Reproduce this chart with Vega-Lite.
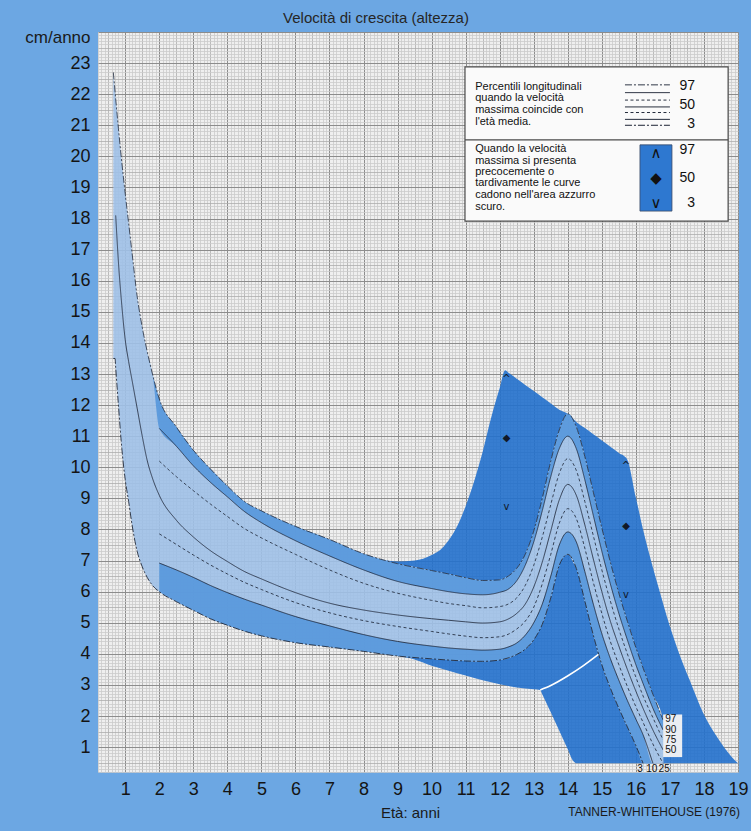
{
  "$schema": "https://vega.github.io/schema/vega-lite/v6.json",
  "width": 640,
  "height": 740,
  "autosize": {"type": "none"},
  "padding": {"left": 98, "top": 32, "right": 13, "bottom": 59},
  "background": "#6ca7e3",
  "config": {"font": "Liberation Sans", "view": {"fill": "#efefef", "stroke": null}},
  "title": {"text": "Velocità di crescita (altezza)", "fontSize": 15, "fontWeight": "normal", "color": "#262626", "anchor": "middle", "frame": "group", "dx": -42, "offset": -3},
  "datasets": {
    "darkUpper": [
      {"x": 8.5, "top": 7.05, "bottom": 7.05},
      {"x": 9.0, "top": 6.97, "bottom": 6.9},
      {"x": 9.5, "top": 7.0, "bottom": 6.79},
      {"x": 10.0, "top": 7.18, "bottom": 6.68},
      {"x": 10.25, "top": 7.34, "bottom": 6.62},
      {"x": 10.5, "top": 7.65, "bottom": 6.57},
      {"x": 10.75, "top": 8.1, "bottom": 6.51},
      {"x": 11.0, "top": 8.75, "bottom": 6.45},
      {"x": 11.25, "top": 9.55, "bottom": 6.4},
      {"x": 11.5, "top": 10.5, "bottom": 6.36},
      {"x": 11.75, "top": 11.6, "bottom": 6.36},
      {"x": 12.0, "top": 12.55, "bottom": 6.38},
      {"x": 12.16, "top": 13.12, "bottom": 6.45},
      {"x": 12.25, "top": 13.05, "bottom": 6.5},
      {"x": 12.5, "top": 12.85, "bottom": 6.75},
      {"x": 12.75, "top": 12.65, "bottom": 7.2},
      {"x": 13.0, "top": 12.45, "bottom": 7.95},
      {"x": 13.25, "top": 12.25, "bottom": 9.0},
      {"x": 13.5, "top": 12.05, "bottom": 10.2},
      {"x": 13.75, "top": 11.85, "bottom": 11.2},
      {"x": 14.0, "top": 11.72, "bottom": 11.72},
      {"x": 14.25, "top": 11.46, "bottom": 11.3},
      {"x": 14.5, "top": 11.26, "bottom": 10.35},
      {"x": 14.75, "top": 11.06, "bottom": 9.2},
      {"x": 15.0, "top": 10.86, "bottom": 8.05},
      {"x": 15.25, "top": 10.66, "bottom": 6.95},
      {"x": 15.5, "top": 10.46, "bottom": 5.95},
      {"x": 15.73, "top": 10.28, "bottom": 5.12},
      {"x": 16.0, "top": 9.03, "bottom": 4.2},
      {"x": 16.21, "top": 8.0, "bottom": 3.55},
      {"x": 16.5, "top": 6.78, "bottom": 2.7},
      {"x": 16.8, "top": 5.62, "bottom": 1.87},
      {"x": 16.81, "top": 5.58, "bottom": 0.48},
      {"x": 17.2, "top": 4.23, "bottom": 0.48},
      {"x": 17.6, "top": 3.1, "bottom": 0.48},
      {"x": 17.98, "top": 2.09, "bottom": 0.48},
      {"x": 18.4, "top": 1.3, "bottom": 0.48},
      {"x": 18.81, "top": 0.69, "bottom": 0.48},
      {"x": 19.0, "top": 0.48, "bottom": 0.48}
    ],
    "darkLower": [
      {"x": 9.0, "top": 3.93, "bottom": 3.93},
      {"x": 9.5, "top": 3.88, "bottom": 3.82},
      {"x": 10.0, "top": 3.84, "bottom": 3.62},
      {"x": 10.5, "top": 3.8, "bottom": 3.46},
      {"x": 11.0, "top": 3.77, "bottom": 3.3},
      {"x": 11.5, "top": 3.76, "bottom": 3.15},
      {"x": 12.0, "top": 3.8, "bottom": 3.02},
      {"x": 12.5, "top": 3.98, "bottom": 2.92},
      {"x": 13.0, "top": 4.45, "bottom": 2.86},
      {"x": 13.19, "top": 4.83, "bottom": 2.84},
      {"x": 13.25, "top": 4.95, "bottom": 2.7},
      {"x": 13.5, "top": 5.8, "bottom": 2.12},
      {"x": 13.75, "top": 6.85, "bottom": 1.53},
      {"x": 14.0, "top": 7.2, "bottom": 0.93},
      {"x": 14.16, "top": 6.95, "bottom": 0.55},
      {"x": 14.25, "top": 6.75, "bottom": 0.48},
      {"x": 14.5, "top": 5.7, "bottom": 0.48},
      {"x": 14.75, "top": 4.6, "bottom": 0.48},
      {"x": 15.0, "top": 3.65, "bottom": 0.48},
      {"x": 15.25, "top": 2.9, "bottom": 0.48},
      {"x": 15.5, "top": 2.25, "bottom": 0.48},
      {"x": 15.75, "top": 1.65, "bottom": 0.48},
      {"x": 16.0, "top": 1.05, "bottom": 0.48},
      {"x": 16.21, "top": 0.48, "bottom": 0.48}
    ],
    "bands": [
      {"x": 0.65, "p97": 22.7, "p3": 13.5},
      {"x": 0.7, "p97": 22.1, "p3": 13.5},
      {"x": 0.72, "p97": 21.85, "p50": 18.1, "p3": 13.2},
      {"x": 0.8, "p97": 20.9, "p50": 16.6, "p3": 12.0},
      {"x": 0.9, "p97": 19.8, "p50": 15.2, "p3": 10.6},
      {"x": 1.0, "p97": 18.8, "p50": 14.1, "p3": 9.6},
      {"x": 1.1, "p97": 17.85, "p50": 13.4, "p3": 8.9},
      {"x": 1.2, "p97": 16.9, "p50": 12.8, "p3": 8.15},
      {"x": 1.35, "p97": 15.5, "p50": 11.9, "p3": 7.3},
      {"x": 1.5, "p97": 14.5, "p50": 11.0, "p3": 6.8},
      {"x": 1.65, "p97": 13.7, "p50": 10.2, "p3": 6.45},
      {"x": 1.8, "p97": 13.0, "p50": 9.65, "p3": 6.2},
      {"x": 2.0, "p97": 12.2, "p90": 11.25, "p75": 10.2, "p50": 9.1, "p25": 7.86, "p10": 6.92, "p3": 6.0},
      {"x": 2.5, "p97": 11.3, "p90": 10.68, "p75": 9.7, "p50": 8.3, "p25": 7.52, "p10": 6.7, "p3": 5.68},
      {"x": 3.0, "p97": 10.55, "p90": 10.05, "p75": 9.25, "p50": 7.76, "p25": 7.18, "p10": 6.46, "p3": 5.4},
      {"x": 3.5, "p97": 9.95, "p90": 9.52, "p75": 8.82, "p50": 7.32, "p25": 6.86, "p10": 6.2, "p3": 5.13},
      {"x": 4.0, "p97": 9.4, "p90": 9.05, "p75": 8.42, "p50": 6.97, "p25": 6.57, "p10": 5.97, "p3": 4.92},
      {"x": 4.5, "p97": 8.9, "p90": 8.58, "p75": 8.03, "p50": 6.65, "p25": 6.3, "p10": 5.76, "p3": 4.73},
      {"x": 5.0, "p97": 8.6, "p90": 8.22, "p75": 7.73, "p50": 6.41, "p25": 6.07, "p10": 5.57, "p3": 4.58},
      {"x": 6.0, "p97": 8.1, "p90": 7.64, "p75": 7.2, "p50": 5.97, "p25": 5.65, "p10": 5.2, "p3": 4.36},
      {"x": 7.0, "p97": 7.68, "p90": 7.15, "p75": 6.7, "p50": 5.63, "p25": 5.32, "p10": 4.9, "p3": 4.22},
      {"x": 8.0, "p97": 7.22, "p90": 6.7, "p75": 6.27, "p50": 5.41, "p25": 5.07, "p10": 4.62, "p3": 4.08},
      {"x": 9.0, "p97": 6.9, "p90": 6.33, "p75": 5.95, "p50": 5.25, "p25": 4.88, "p10": 4.4, "p3": 3.93},
      {"x": 10.0, "p97": 6.68, "p90": 6.1, "p75": 5.72, "p50": 5.13, "p25": 4.72, "p10": 4.25, "p3": 3.84},
      {"x": 10.5, "p97": 6.57, "p90": 6.0, "p75": 5.62, "p50": 5.08, "p25": 4.64, "p10": 4.19, "p3": 3.8},
      {"x": 11.0, "p97": 6.45, "p90": 5.93, "p75": 5.55, "p50": 5.03, "p25": 4.57, "p10": 4.15, "p3": 3.77},
      {"x": 11.5, "p97": 6.36, "p90": 5.9, "p75": 5.48, "p50": 4.99, "p25": 4.52, "p10": 4.12, "p3": 3.76},
      {"x": 12.0, "p97": 6.38, "p90": 5.98, "p75": 5.52, "p50": 5.03, "p25": 4.55, "p10": 4.15, "p3": 3.8},
      {"x": 12.25, "p97": 6.5, "p90": 6.08, "p75": 5.6, "p50": 5.12, "p25": 4.63, "p10": 4.22, "p3": 3.87},
      {"x": 12.5, "p97": 6.75, "p90": 6.35, "p75": 5.8, "p50": 5.3, "p25": 4.8, "p10": 4.35, "p3": 3.98},
      {"x": 12.75, "p97": 7.2, "p90": 6.85, "p75": 6.2, "p50": 5.6, "p25": 5.05, "p10": 4.6, "p3": 4.15},
      {"x": 13.0, "p97": 7.95, "p90": 7.6, "p75": 6.85, "p50": 6.15, "p25": 5.5, "p10": 5.0, "p3": 4.45},
      {"x": 13.25, "p97": 9.0, "p90": 8.6, "p75": 7.75, "p50": 6.95, "p25": 6.25, "p10": 5.6, "p3": 4.95},
      {"x": 13.5, "p97": 10.2, "p90": 9.7, "p75": 8.8, "p50": 7.95, "p25": 7.2, "p10": 6.5, "p3": 5.8},
      {"x": 13.75, "p97": 11.2, "p90": 10.6, "p75": 9.8, "p50": 8.95, "p25": 8.2, "p10": 7.5, "p3": 6.85},
      {"x": 14.0, "p97": 11.72, "p90": 11.0, "p75": 10.28, "p50": 9.45, "p25": 8.67, "p10": 7.92, "p3": 7.2},
      {"x": 14.25, "p97": 11.3, "p90": 10.6, "p75": 9.9, "p50": 9.1, "p25": 8.35, "p10": 7.6, "p3": 6.75},
      {"x": 14.5, "p97": 10.35, "p90": 9.6, "p75": 8.9, "p50": 8.15, "p25": 7.4, "p10": 6.65, "p3": 5.7},
      {"x": 14.75, "p97": 9.2, "p90": 8.45, "p75": 7.8, "p50": 7.05, "p25": 6.3, "p10": 5.6, "p3": 4.6},
      {"x": 15.0, "p97": 8.05, "p90": 7.3, "p75": 6.7, "p50": 6.0, "p25": 5.3, "p10": 4.65, "p3": 3.65},
      {"x": 15.25, "p97": 6.95, "p90": 6.25, "p75": 5.7, "p50": 5.05, "p25": 4.4, "p10": 3.85, "p3": 2.9},
      {"x": 15.5, "p97": 5.95, "p90": 5.3, "p75": 4.8, "p50": 4.25, "p25": 3.65, "p10": 3.15, "p3": 2.25},
      {"x": 15.75, "p97": 5.05, "p90": 4.45, "p75": 4.0, "p50": 3.5, "p25": 2.95, "p10": 2.5, "p3": 1.65},
      {"x": 16.0, "p97": 4.2, "p90": 3.65, "p75": 3.25, "p50": 2.8, "p25": 2.3, "p10": 1.9, "p3": 1.05},
      {"x": 16.21, "p97": 3.55, "p90": 3.05, "p75": 2.65, "p50": 2.25, "p25": 1.8, "p10": 1.4, "p3": 0.48},
      {"x": 16.5, "p97": 2.7, "p90": 2.25, "p75": 1.95, "p50": 1.55, "p25": 1.1, "p10": 0.48, "p3": 0.47},
      {"x": 16.8, "p97": 1.87, "p90": 1.55, "p75": 1.23, "p50": 0.91, "p25": 0.48, "p10": 0.47, "p3": 0.47}
    ],
    "arc": [
      {"x": 13.19, "y": 2.84}, {"x": 13.5, "y": 2.98}, {"x": 13.97, "y": 3.27}, {"x": 14.46, "y": 3.62}, {"x": 14.9, "y": 3.98}
    ],
    "markers": [
      {"x": 12.2, "y": 12.85, "s": "^"}, {"x": 12.2, "y": 10.94, "s": "◆"}, {"x": 12.2, "y": 8.72, "s": "v"},
      {"x": 15.71, "y": 10.05, "s": "^"}, {"x": 15.71, "y": 8.11, "s": "◆"}, {"x": 15.71, "y": 5.89, "s": "v"}
    ],
    "legendBox": [{"x": 10.98, "x2": 18.71, "y": 22.88, "y2": 17.92}],
    "legendSep": [{"x": 10.98, "x2": 18.71, "y": 20.53}],
    "legendText": [
      {"x": 11.28, "y": 22.24, "t": "Percentili longitudinali"},
      {"x": 11.28, "y": 21.87, "t": "quando la velocità"},
      {"x": 11.28, "y": 21.49, "t": "massima coincide con"},
      {"x": 11.28, "y": 21.12, "t": "l'età media."},
      {"x": 11.28, "y": 20.23, "t": "Quando la velocità"},
      {"x": 11.28, "y": 19.86, "t": "massima si presenta"},
      {"x": 11.28, "y": 19.5, "t": "precocemente o"},
      {"x": 11.28, "y": 19.14, "t": "tardivamente le curve"},
      {"x": 11.28, "y": 18.76, "t": "cadono nell'area azzurro"},
      {"x": 11.28, "y": 18.38, "t": "scuro."}
    ],
    "legendNum": [
      {"x": 17.74, "y": 22.27, "t": "97"}, {"x": 17.74, "y": 21.65, "t": "50"}, {"x": 17.74, "y": 21.04, "t": "3"},
      {"x": 17.74, "y": 20.2, "t": "97"}, {"x": 17.74, "y": 19.31, "t": "50"}, {"x": 17.74, "y": 18.5, "t": "3"}
    ],
    "legendSample": [
      {"x": 15.68, "x2": 17.0, "y": 22.3, "pct": "p97"},
      {"x": 15.68, "x2": 17.0, "y": 22.05, "pct": "p90"},
      {"x": 15.68, "x2": 17.0, "y": 21.81, "pct": "p75"},
      {"x": 15.68, "x2": 17.0, "y": 21.59, "pct": "p50"},
      {"x": 15.68, "x2": 17.0, "y": 21.41, "pct": "p25"},
      {"x": 15.68, "x2": 17.0, "y": 21.19, "pct": "p10"},
      {"x": 15.68, "x2": 17.0, "y": 21.0, "pct": "p3"}
    ],
    "legendBlue": [{"x": 16.12, "x2": 17.06, "y": 20.37, "y2": 18.24}],
    "legendSym": [
      {"x": 16.59, "y": 20.12, "s": "∧"}, {"x": 16.59, "y": 19.31, "s": "◆"}, {"x": 16.59, "y": 18.5, "s": "∨"}
    ],
    "endBox": [{"x": 16.8, "x2": 17.36, "y": 2.05, "y2": 0.68}],
    "endRight": [
      {"x": 16.86, "y": 1.89, "t": "97"}, {"x": 16.86, "y": 1.56, "t": "90"}, {"x": 16.86, "y": 1.23, "t": "75"}, {"x": 16.86, "y": 0.9, "t": "50"}
    ],
    "endBottom": [
      {"x": 16.12, "y": 0.3, "t": "3"}, {"x": 16.47, "y": 0.3, "t": "10"}, {"x": 16.83, "y": 0.3, "t": "25"}
    ],
    "credit": [{"x": 19.06, "y": -1.09, "t": "TANNER-WHITEHOUSE (1976)"}]
  },
  "layer": [
    {
      "data": {"name": "darkUpper"},
      "mark": {"type": "area", "color": "#2270cc", "opacity": 0.9, "interpolate": "monotone"},
      "encoding": {
        "x": {"field": "x", "type": "quantitative",
          "scale": {"domain": [0.2, 19], "nice": false, "zero": false},
          "axis": {
            "tickCount": 188, "grid": true, "ticks": false, "tickSize": 0, "domain": false,
            "labelExpr": "abs(datum.value - round(datum.value)) < 0.01 ? '' + round(datum.value) : ''",
            "labelOverlap": false, "labelFlush": false, "labelBound": false,
            "labelFontSize": 18, "labelColor": "#141414", "labelPadding": 8,
            "gridColor": {"condition": [{"test": "abs(datum.value - round(datum.value)) < 0.01", "value": "#8c8c8c"}, {"test": "abs(datum.value * 2 - round(datum.value * 2)) < 0.01", "value": "#adadad"}], "value": "#cbcbcb"},
            "gridWidth": {"condition": [{"test": "abs(datum.value - round(datum.value)) < 0.01", "value": 1}], "value": 0.8},
            "title": "Età: anni", "titleFontSize": 15, "titleFontWeight": "normal", "titleColor": "#1a1a1a",
            "titleX": 312, "titleY": 40, "titleBaseline": "middle", "titleAlign": "center"
          }
        },
        "y": {"field": "top", "type": "quantitative",
          "scale": {"domain": [0.2, 24], "nice": false, "zero": false},
          "axis": {
            "tickCount": 238, "grid": true, "ticks": false, "tickSize": 0, "domain": false,
            "labelExpr": "abs(datum.value - round(datum.value)) < 0.01 && datum.value < 23.5 ? '' + round(datum.value) : ''",
            "labelOverlap": false, "labelFlush": false, "labelBound": false,
            "labelFontSize": 18, "labelColor": "#141414", "labelPadding": 8,
            "gridColor": {"condition": [{"test": "abs(datum.value - round(datum.value)) < 0.01", "value": "#8c8c8c"}, {"test": "abs(datum.value * 2 - round(datum.value * 2)) < 0.01", "value": "#adadad"}], "value": "#cbcbcb"},
            "gridWidth": {"condition": [{"test": "abs(datum.value - round(datum.value)) < 0.01", "value": 1}], "value": 0.8},
            "title": "cm/anno", "titleFontSize": 17, "titleFontWeight": "normal", "titleColor": "#1a1a1a",
            "titleAngle": 0, "titleAlign": "right", "titleBaseline": "middle", "titleX": -8, "titleY": 5
          }
        },
        "y2": {"field": "bottom"}
      }
    },
    {
      "data": {"name": "darkLower"},
      "mark": {"type": "area", "color": "#2270cc", "opacity": 0.9, "interpolate": "monotone"},
      "encoding": {
        "x": {"field": "x", "type": "quantitative"},
        "y": {"field": "top", "type": "quantitative"},
        "y2": {"field": "bottom"}
      }
    },
    {
      "data": {"name": "bands"},
      "mark": {"type": "area", "color": "#9ec0e7", "opacity": 0.9, "interpolate": "monotone"},
      "encoding": {
        "x": {"field": "x", "type": "quantitative"},
        "y": {"field": "p97", "type": "quantitative"},
        "y2": {"field": "p3"}
      }
    },
    {
      "data": {"name": "bands"},
      "mark": {"type": "area", "color": "#5697db", "opacity": 0.9, "interpolate": "monotone"},
      "encoding": {
        "x": {"field": "x", "type": "quantitative"},
        "y": {"field": "p97", "type": "quantitative"},
        "y2": {"field": "p90"}
      }
    },
    {
      "data": {"name": "bands"},
      "mark": {"type": "area", "color": "#5697db", "opacity": 0.9, "interpolate": "monotone"},
      "encoding": {
        "x": {"field": "x", "type": "quantitative"},
        "y": {"field": "p10", "type": "quantitative"},
        "y2": {"field": "p3"}
      }
    },
    {
      "data": {"name": "bands"},
      "transform": [
        {"fold": ["p97", "p90", "p75", "p50", "p25", "p10", "p3"], "as": ["pct", "v"]},
        {"filter": "isValid(datum.v) && datum.v >= 0.475"}
      ],
      "mark": {"type": "line", "color": "#1a2233", "interpolate": "monotone", "opacity": 0.85},
      "encoding": {
        "x": {"field": "x", "type": "quantitative"},
        "y": {"field": "v", "type": "quantitative"},
        "detail": {"field": "pct"},
        "strokeDash": {"field": "pct", "type": "nominal", "legend": null,
          "scale": {"domain": ["p97", "p90", "p75", "p50", "p25", "p10", "p3"], "range": [[7, 2, 2, 2], [1, 0], [3, 2.5], [1, 0], [3, 2.5], [1, 0], [7, 2, 2, 2]]}},
        "strokeWidth": {"field": "pct", "type": "ordinal", "legend": null,
          "scale": {"domain": ["p97", "p90", "p75", "p50", "p25", "p10", "p3"], "range": [0.9, 1, 0.8, 1.5, 0.8, 1, 0.9]}}
      }
    },
    {
      "data": {"name": "arc"},
      "mark": {"type": "line", "color": "#ffffff", "strokeWidth": 1.6, "interpolate": "monotone"},
      "encoding": {
        "x": {"field": "x", "type": "quantitative"},
        "y": {"field": "y", "type": "quantitative"}
      }
    },
    {
      "data": {"name": "markers"},
      "mark": {"type": "text", "font": "DejaVu Sans", "fontSize": 10, "color": "#111827", "align": "center", "baseline": "middle"},
      "encoding": {
        "x": {"field": "x", "type": "quantitative"},
        "y": {"field": "y", "type": "quantitative"},
        "text": {"field": "s"}
      }
    },
    {
      "data": {"name": "endBox"},
      "mark": {"type": "rect", "color": "#f4f4f4", "opacity": 0.95},
      "encoding": {
        "x": {"field": "x", "type": "quantitative"}, "x2": {"field": "x2"},
        "y": {"field": "y", "type": "quantitative"}, "y2": {"field": "y2"}
      }
    },
    {
      "data": {"name": "endRight"},
      "mark": {"type": "text", "fontSize": 10, "color": "#111111", "align": "left", "baseline": "middle"},
      "encoding": {
        "x": {"field": "x", "type": "quantitative"},
        "y": {"field": "y", "type": "quantitative"},
        "text": {"field": "t"}
      }
    },
    {
      "data": {"name": "endBottom"},
      "mark": {"type": "text", "fontSize": 10, "color": "#111111", "align": "center", "baseline": "middle"},
      "encoding": {
        "x": {"field": "x", "type": "quantitative"},
        "y": {"field": "y", "type": "quantitative"},
        "text": {"field": "t"}
      }
    },
    {
      "data": {"name": "legendBox"},
      "mark": {"type": "rect", "fill": "#fafafa", "stroke": "#4a4a4a", "strokeWidth": 1.2},
      "encoding": {
        "x": {"field": "x", "type": "quantitative"}, "x2": {"field": "x2"},
        "y": {"field": "y", "type": "quantitative"}, "y2": {"field": "y2"}
      }
    },
    {
      "data": {"name": "legendSep"},
      "mark": {"type": "rule", "color": "#4a4a4a", "strokeWidth": 1.2},
      "encoding": {
        "x": {"field": "x", "type": "quantitative"}, "x2": {"field": "x2"},
        "y": {"field": "y", "type": "quantitative"}
      }
    },
    {
      "data": {"name": "legendBlue"},
      "mark": {"type": "rect", "color": "#2e78d0", "stroke": "#3a4a66", "strokeWidth": 0.8},
      "encoding": {
        "x": {"field": "x", "type": "quantitative"}, "x2": {"field": "x2"},
        "y": {"field": "y", "type": "quantitative"}, "y2": {"field": "y2"}
      }
    },
    {
      "data": {"name": "legendSample"},
      "mark": {"type": "rule", "color": "#1a2233"},
      "encoding": {
        "x": {"field": "x", "type": "quantitative"}, "x2": {"field": "x2"},
        "y": {"field": "y", "type": "quantitative"},
        "strokeDash": {"field": "pct", "type": "nominal", "legend": null},
        "strokeWidth": {"field": "pct", "type": "ordinal", "legend": null}
      }
    },
    {
      "data": {"name": "legendText"},
      "mark": {"type": "text", "fontSize": 11, "color": "#111111", "align": "left", "baseline": "middle"},
      "encoding": {
        "x": {"field": "x", "type": "quantitative"},
        "y": {"field": "y", "type": "quantitative"},
        "text": {"field": "t"}
      }
    },
    {
      "data": {"name": "legendNum"},
      "mark": {"type": "text", "fontSize": 14, "color": "#111111", "align": "right", "baseline": "middle"},
      "encoding": {
        "x": {"field": "x", "type": "quantitative"},
        "y": {"field": "y", "type": "quantitative"},
        "text": {"field": "t"}
      }
    },
    {
      "data": {"name": "legendSym"},
      "mark": {"type": "text", "font": "DejaVu Sans", "fontSize": 15, "color": "#111111", "align": "center", "baseline": "middle"},
      "encoding": {
        "x": {"field": "x", "type": "quantitative"},
        "y": {"field": "y", "type": "quantitative"},
        "text": {"field": "s"}
      }
    },
    {
      "data": {"name": "credit"},
      "mark": {"type": "text", "fontSize": 12, "color": "#1a1a1a", "align": "right", "baseline": "middle"},
      "encoding": {
        "x": {"field": "x", "type": "quantitative"},
        "y": {"field": "y", "type": "quantitative"},
        "text": {"field": "t"}
      }
    }
  ]
}
